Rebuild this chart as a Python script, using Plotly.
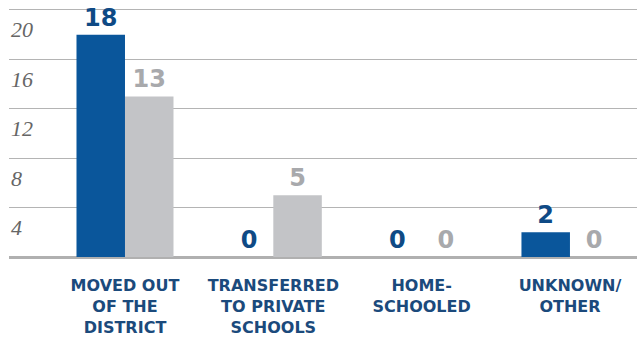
import plotly.graph_objects as go

# Reasons for leaving, two comparison groups
categories = ["MOVED OUT<br>OF THE<br>DISTRICT",
              "TRANSFERRED<br>TO PRIVATE<br>SCHOOLS",
              "HOME-<br>SCHOOLED",
              "UNKNOWN/<br>OTHER"]
series_blue = [18, 0, 0, 2]
series_gray = [13, 5, 0, 0]
y_ticks = [4, 8, 12, 16, 20]

BLUE = "#0a569b"
BLUE_TEXT = "#0f4a85"
GRAY = "#c3c4c7"
GRAY_TEXT = "#a8a9ac"
LABEL_FONT = "DejaVu Sans"

fig = go.Figure()
for vals, col, tcol in [(series_blue, BLUE, BLUE_TEXT), (series_gray, GRAY, GRAY_TEXT)]:
    fig.add_trace(go.Bar(
        x=categories, y=vals,
        marker=dict(color=col, line=dict(width=0)),
        text=[str(v) for v in vals], textposition="outside",
        textfont=dict(family=LABEL_FONT, size=24, color=tcol, weight="bold"),
        cliponaxis=False, showlegend=False,
    ))

# y tick labels sit just under their gridlines, flush left
for t in y_ticks:
    fig.add_annotation(
        x=0, xref="paper", xanchor="left",
        y=t, yref="y", yanchor="middle", yshift=-20,
        text=str(t), showarrow=False,
        font=dict(family="Liberation Serif", size=22, color="#666666", style="italic"),
    )

fig.update_layout(
    width=637, height=339,
    margin=dict(l=9, r=0, t=5, b=82),
    paper_bgcolor="white", plot_bgcolor="white",
    barmode="group", bargap=0.346, bargroupgap=0,
    xaxis=dict(
        range=[-0.782, 3.452], showgrid=False, zeroline=False, showline=False,
        ticks="", ticklabelstandoff=17,
        tickfont=dict(family=LABEL_FONT, size=16, color="#1b4a7c", weight="bold"),
    ),
    yaxis=dict(
        range=[0, 20.4], tickvals=y_ticks, showticklabels=False,
        showgrid=True, gridcolor="#b4b4b4", gridwidth=1,
        zeroline=True, zerolinecolor="#b0b0b0", zerolinewidth=3,
        showline=False,
    ),
)

fig.write_html("out.html")
